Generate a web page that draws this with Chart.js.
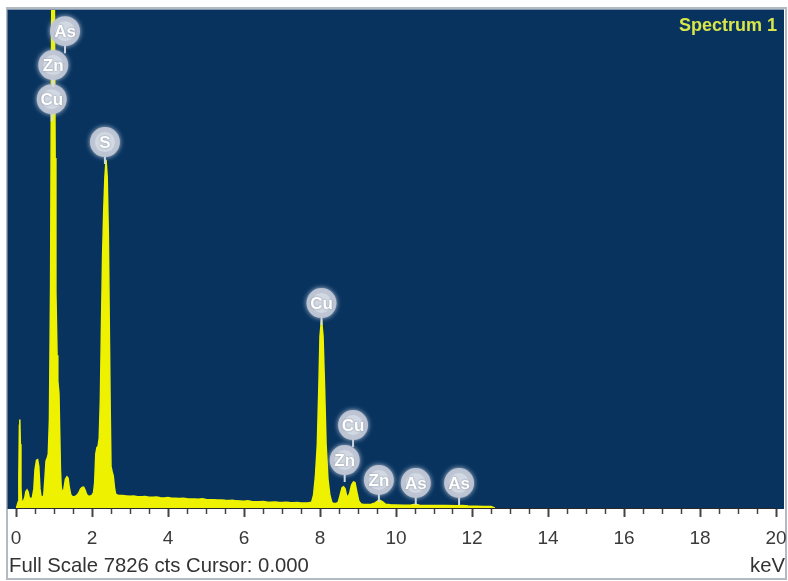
<!DOCTYPE html>
<html>
<head>
<meta charset="utf-8">
<script src="https://cdn.jsdelivr.net/npm/chart.js@4/dist/chart.umd.min.js"></script>
<style>
  html, body { margin: 0; padding: 0; background: #ffffff; }
  canvas { display: block; }
</style>
</head>
<body>
<canvas id="spectrum" width="788" height="581"></canvas>
<script>
// EDS spectrum: energy (keV) and counts per channel
const energyKeV = [
  0.00, 0.03, 0.06, 0.075, 0.09, 0.10, 0.115, 0.13, 0.15, 0.19,
  0.23, 0.26, 0.29, 0.32, 0.35, 0.39, 0.43, 0.47, 0.50, 0.54,
  0.57, 0.60, 0.63, 0.66, 0.70, 0.73, 0.76, 0.79, 0.82, 0.85,
  0.88, 0.91, 0.93, 0.95, 0.97, 0.99, 1.01, 1.03, 1.05, 1.08,
  1.10, 1.13, 1.15, 1.17, 1.19, 1.22, 1.26, 1.30, 1.34, 1.37,
  1.40, 1.44, 1.48, 1.53, 1.58, 1.62, 1.66, 1.70, 1.74, 1.78,
  1.82, 1.86, 1.90, 1.95, 2.00, 2.04, 2.07, 2.10, 2.13, 2.16,
  2.19, 2.22, 2.25, 2.28, 2.31, 2.34, 2.37, 2.40, 2.43, 2.46,
  2.48, 2.50, 2.53, 2.56, 2.59, 2.62, 2.66, 2.70, 2.80, 2.90,
  3.00, 3.10, 3.20, 3.30, 3.40, 3.50, 3.60, 3.70, 3.80, 3.90,
  4.00, 4.10, 4.20, 4.30, 4.40, 4.50, 4.60, 4.70, 4.80, 4.90,
  5.00, 5.10, 5.20, 5.30, 5.40, 5.50, 5.60, 5.70, 5.80, 5.90,
  6.00, 6.10, 6.20, 6.30, 6.40, 6.50, 6.60, 6.70, 6.80, 6.90,
  7.00, 7.10, 7.20, 7.30, 7.40, 7.50, 7.60, 7.70, 7.78, 7.83,
  7.88, 7.93, 7.97, 8.00, 8.04, 8.08, 8.12, 8.16, 8.21, 8.26,
  8.31, 8.36, 8.42, 8.48, 8.53, 8.58, 8.62, 8.66, 8.70, 8.74,
  8.78, 8.83, 8.88, 8.92, 8.97, 9.02, 9.08, 9.15, 9.25, 9.35,
  9.45, 9.52, 9.58, 9.64, 9.72, 9.85, 10.00, 10.20, 10.40, 10.52,
  10.62, 10.80, 11.00, 11.30, 11.60, 11.75, 11.90, 12.10, 12.30, 12.50,
  12.60
];
const counts = [
  0, 40, 100, 500, 1300, 1390, 1000, 300, 110, 100,
  160, 260, 285, 250, 160, 150, 160, 300, 600, 750,
  760, 650, 300, 180, 170, 200, 450, 740, 780, 850,
  1400, 3500, 6500, 9000, 10500, 10000, 8000, 5500, 3400, 2400,
  2000, 1800, 1200, 600, 330, 230, 300, 450, 490, 470,
  330, 210, 180, 175, 190, 210, 250, 300, 325, 330,
  280, 210, 190, 185, 200, 240, 400, 850, 950, 970,
  1100, 1700, 2900, 4000, 4700, 5200, 5470, 5200, 4300, 2600,
  1500, 650, 570, 500, 330, 220, 205, 200, 195, 190,
  185, 188, 178, 175, 180, 170, 168, 172, 160, 158,
  165, 155, 152, 150, 155, 145, 142, 140, 138, 145,
  132, 130, 128, 126, 125, 120, 118, 122, 112, 110,
  108, 112, 104, 100, 98, 102, 95, 92, 96, 90,
  88, 92, 85, 82, 88, 80, 78, 82, 90, 200,
  500, 1000, 1900, 2700, 2960, 2700, 1900, 1000, 450, 200,
  90, 70, 70, 90, 200, 320, 335, 300, 190, 180,
  230, 360, 410, 400, 250, 110, 65, 55, 55, 60,
  80, 110, 120, 100, 60, 50, 48, 45, 48, 60,
  45, 40, 38, 38, 35, 40, 30, 28, 25, 22,
  0
];

// Full scale of the count axis
const fullScaleCounts = 7826;

// Element line markers: symbol, energy (keV) and height (counts) of the marker
const markerLabels = ['Cu', 'Zn', 'As', 'S', 'Cu', 'Cu', 'Zn', 'Zn', 'As', 'As'];
const markerKeV    = [0.94, 0.98, 1.29, 2.34, 8.04, 8.87, 8.65, 9.55, 10.52, 11.66];
const markerCounts = [6425, 6960, 7494, 5750, 3221, 1304, 754, 440, 393, 393];

const spectrumTitle = 'Spectrum 1';
const footerText = 'Full Scale 7826 cts Cursor: 0.000';
const unitText = 'keV';

const FONT = "'Liberation Sans', Arial, sans-serif";

// Panel: white page, grey frame, navy plot field
const panelPlugin = {
  id: 'panel',
  beforeDraw(chart) {
    const { ctx, chartArea: a, width, height } = chart;
    ctx.save();
    ctx.fillStyle = '#ffffff';
    ctx.fillRect(0, 0, width, height);
    ctx.strokeStyle = '#b4bac2';
    ctx.lineWidth = 2;
    ctx.strokeRect(7, 8, width - 9, height - 10);
    ctx.fillStyle = '#08335f';
    ctx.fillRect(a.left - 8.5, a.top - 0.5, (a.right + 8) - (a.left - 8.5), (a.bottom + 1) - (a.top - 0.5));
    ctx.restore();
  }
};

// Element markers, title and footer text
const annotatePlugin = {
  id: 'annotate',
  afterDatasetsDraw(chart) {
    const { ctx, chartArea: a, scales: { x, y } } = chart;
    const r = 15;
    ctx.save();
    ctx.beginPath();
    ctx.rect(a.left - 8.5, a.top - 0.5, (a.right + 8) - (a.left - 8.5), (a.bottom + 1) - (a.top - 0.5));
    ctx.clip();
    markerLabels.forEach((lab, i) => {
      const px = x.getPixelForValue(markerKeV[i]);
      const py = y.getPixelForValue(markerCounts[i]);
      // stem
      ctx.strokeStyle = 'rgba(215,222,232,0.95)';
      ctx.lineWidth = 2;
      ctx.beginPath();
      ctx.moveTo(px, py + r - 2);
      ctx.lineTo(px, py + r + 7);
      ctx.stroke();
      // soft bubble
      ctx.shadowColor = 'rgba(205,212,224,0.95)';
      ctx.shadowBlur = 5;
      ctx.fillStyle = 'rgba(190,198,212,0.96)';
      ctx.beginPath();
      ctx.arc(px, py, r, 0, Math.PI * 2);
      ctx.fill();
      ctx.shadowBlur = 0;
      ctx.fillStyle = 'rgba(212,218,228,0.9)';
      ctx.beginPath();
      ctx.arc(px, py, r - 5, 0, Math.PI * 2);
      ctx.fill();
      // symbol
      ctx.font = 'bold 17px ' + FONT;
      ctx.textAlign = 'center';
      ctx.textBaseline = 'middle';
      ctx.fillStyle = '#ffffff';
      ctx.shadowColor = 'rgba(110,120,138,0.85)';
      ctx.shadowBlur = 2;
      ctx.fillText(lab, px, py + 1);
      ctx.shadowBlur = 0;
    });
    ctx.restore();

    ctx.save();
    ctx.font = 'bold 18px ' + FONT;
    ctx.textAlign = 'right';
    ctx.textBaseline = 'middle';
    ctx.fillStyle = '#d9e64a';
    ctx.fillText(spectrumTitle, a.right + 1, a.top + 16);

    ctx.font = '20.3px ' + FONT;
    ctx.fillStyle = '#333333';
    ctx.textAlign = 'left';
    ctx.fillText(footerText, 9, 566);
    ctx.textAlign = 'right';
    ctx.fillText(unitText, 785, 566);
    ctx.restore();
  }
};

const isMajor = (v) => Math.abs(v / 2 - Math.round(v / 2)) < 1e-6;

new Chart(document.getElementById('spectrum'), {
  type: 'line',
  data: {
    datasets: [{
      data: energyKeV.map((e, i) => ({ x: e, y: counts[i] })),
      borderColor: '#eef200',
      backgroundColor: '#eef200',
      borderWidth: 1.5,
      fill: 'origin',
      pointRadius: 0,
      tension: 0
    }]
  },
  options: {
    responsive: false,
    animation: false,
    events: [],
    layout: { padding: { top: 10, left: 16, right: 12, bottom: 0 } },
    plugins: { legend: { display: false }, tooltip: { enabled: false } },
    scales: {
      x: {
        type: 'linear',
        min: 0,
        max: 20,
        afterFit: (s) => { s.height = 73; s.paddingLeft = 0; s.paddingRight = 0; },
        border: { display: true, color: '#2a2a2a', width: 1 },
        grid: {
          drawOnChartArea: false,
          drawTicks: true,
          tickLength: 9,
          tickColor: '#444444',
          tickWidth: (c) => (c.tick && isMajor(c.tick.value) ? 2 : 1.5),
          tickBorderDash: (c) => (c.tick && isMajor(c.tick.value) ? [] : [5, 30])
        },
        ticks: {
          stepSize: 0.5,
          autoSkip: false,
          maxRotation: 0,
          padding: 10,
          color: '#3a3a3a',
          font: { family: FONT, size: 19 },
          callback: (v) => (isMajor(v) ? String(Math.round(v)) : '')
        }
      },
      y: { display: false, min: 0, max: fullScaleCounts }
    }
  },
  plugins: [panelPlugin, annotatePlugin]
});
</script>
</body>
</html>
